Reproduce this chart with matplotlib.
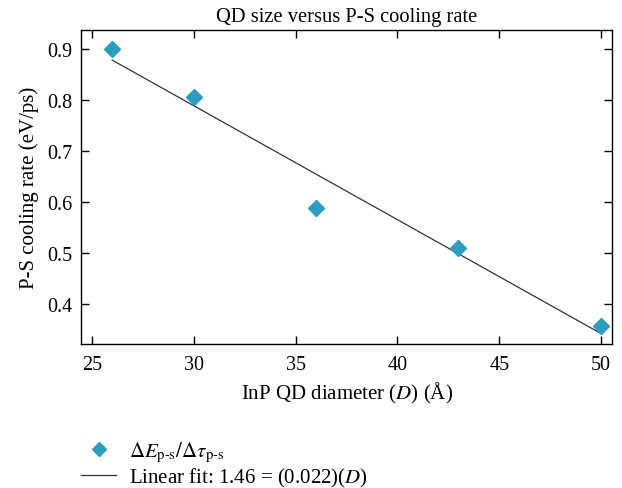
import matplotlib
matplotlib.use("Agg")
import matplotlib.pyplot as plt

# data
diameter = [26, 30, 36, 43, 50]
cooling_rate = [0.900, 0.805, 0.588, 0.510, 0.357]
fit_x = [26, 50]
fit_y = [0.878, 0.342]

plt.rcParams['font.family'] = ['Liberation Serif', 'DejaVu Serif']
plt.rcParams['mathtext.fontset'] = 'stix'

fig = plt.figure(figsize=(6.22, 4.89), dpi=100)
ax = fig.add_axes([0.1310, 0.2945, 0.8530, 0.6421])

pts, = ax.plot(diameter, cooling_rate, linestyle='none', marker='D',
               markersize=8.5, color='#2a9dc0', zorder=3)
fit, = ax.plot(fit_x, fit_y, color='#333333', linewidth=0.9, zorder=2)

ax.set_xlim(24.49, 50.54)
ax.set_ylim(0.3216, 0.937)
ax.set_xticks([25, 30, 35, 40, 45, 50])
ax.set_yticks([0.4, 0.5, 0.6, 0.7, 0.8, 0.9])
ax.tick_params(direction='in', top=True, right=True, length=6, width=1,
               labelsize=14.5, pad=6.5)
ax.tick_params(axis='x', pad=8)
for s in ax.spines.values():
    s.set_linewidth(1)

ax.set_title('QD size versus P-S cooling rate', fontsize=14.8, pad=6.5)
ax.set_xlabel(r'InP QD diameter ($D$) (Å)', fontsize=15, labelpad=4)
ax.set_ylabel('P-S cooling rate (eV/ps)', fontsize=15, labelpad=6)

fig.legend([pts, fit],
           [r'$\Delta E_{\mathrm{p\text{-}s}}/\Delta\tau_{\mathrm{p\text{-}s}}$',
            r'Linear fit: 1.46 = (0.022)($D$)'],
           loc='upper left', bbox_to_anchor=(0.1135, 0.12), frameon=False,
           fontsize=15, handlelength=1.7, labelspacing=0.1,
           handletextpad=0.62, borderpad=0, markerscale=0.8)

fig.savefig('out.png', dpi=100)
